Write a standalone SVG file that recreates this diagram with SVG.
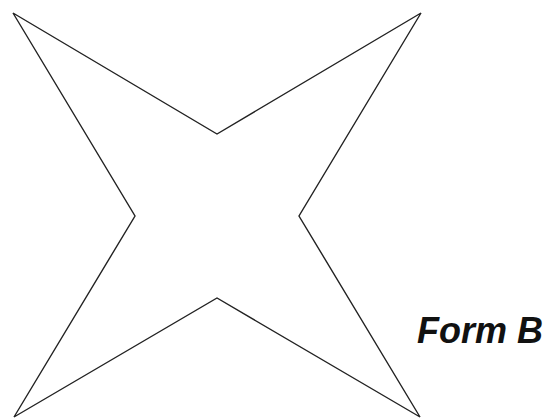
<svg xmlns="http://www.w3.org/2000/svg" width="547" height="419" viewBox="0 0 547 419">
<style>
.shape{fill:#fff;stroke:#222;stroke-width:1.4;stroke-linejoin:miter}
.lbl{font-family:"Liberation Sans",Arial,sans-serif;font-weight:bold;font-style:italic;font-size:36px;fill:#111}
</style>
<rect width="547" height="419" fill="#fff"/>
<g id="star">
<polygon class="shape" points="13,13 217,134 421,13 299,216 420,417 217,298 14,417 135,216"/>
</g>
<g id="label">
<text class="lbl" x="417" y="343">Form B</text>
</g>
</svg>
